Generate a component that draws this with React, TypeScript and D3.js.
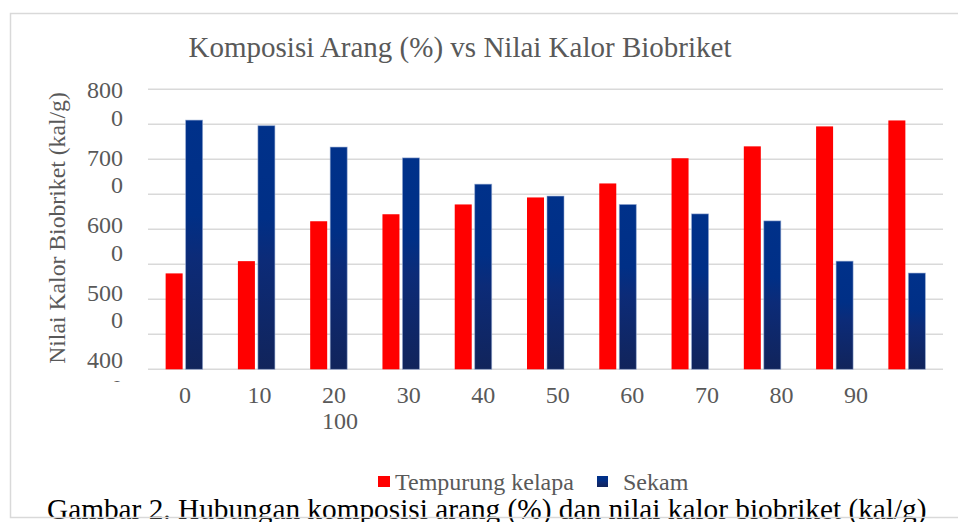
import React from 'react';
import { scaleBand, scaleLinear, range } from 'd3';

const categories = ['0', '10', '20', '30', '40', '50', '60', '70', '80', '90', '100'];
const tempurung = [5370, 5545, 6115, 6215, 6355, 6455, 6655, 7015, 7185, 7470, 7555];
const sekam = [7560, 7480, 7175, 7020, 6645, 6475, 6355, 6220, 6120, 5545, 5375];
const gridValues = range(4000, 8001, 500);
const yLabelValues = [4000, 5000, 6000, 7000, 8000];
const seriesNames = ['Tempurung kelapa', 'Sekam'];

const font = '"Liberation Serif", "Times New Roman", serif';
const gray = '#595959';

const App = () => {
    let svgWidth = 958;
    let svgHeight = 522;
    let plot = { left: 148, right: 943, top: 89.3, bottom: 369.3 };

    let x = scaleBand<string>().domain(categories).range([plot.left, plot.right]).paddingInner(0.488).paddingOuter(0.244);
    let y = scaleLinear().domain([4000, 8000]).range([plot.bottom, plot.top]);
    // labels were squeezed by the original layout, so they sit on their own scale
    let yLab = scaleLinear().domain([4000, 8000]).range([368, 98]);
    let xLab = scaleLinear().domain([0, 9]).range([185, 856]);

    let barW = (x.bandwidth() - 3) / 2;
    let txt = (size: number) => ({ fontFamily: font, fontSize: size });

    return (
        <svg width={svgWidth} height={svgHeight} style={{ position: 'fixed', left: 0, top: 0, background: '#fff' }}>
            <defs>
                <linearGradient id="sekamGrad" x1="0" y1="0" x2="0" y2="1">
                    <stop offset="0" stopColor="#00318a" />
                    <stop offset="0.38" stopColor="#002f86" />
                    <stop offset="0.55" stopColor="#0c2b78" />
                    <stop offset="1" stopColor="#11245b" />
                </linearGradient>
                <clipPath id="yLabClip">
                    <rect x={0} y={0} width={140} height={382} />
                </clipPath>
            </defs>

            <text x={460} y={57} textAnchor="middle" style={txt(29)} fill={gray}>
                Komposisi Arang (%) vs Nilai Kalor Biobriket
            </text>

            <g>
                {gridValues.map(v => (
                    <line key={v} x1={plot.left} x2={plot.right} y1={y(v)} y2={y(v)} stroke="#d9d9d9" strokeWidth={1.4} />
                ))}
            </g>

            <g>
                {categories.map((c, i) => (
                    <g key={c}>
                        <rect x={x(c)} y={y(tempurung[i])} width={barW} height={y(4000) - y(tempurung[i])} fill="#ff0000" />
                        <rect x={x(c) + barW + 3} y={y(sekam[i])} width={barW} height={y(4000) - y(sekam[i])}
                            fill="url(#sekamGrad)" stroke="rgba(150,170,210,0.7)" strokeWidth={0.8} />
                    </g>
                ))}
            </g>

            <g clipPath="url(#yLabClip)" fill={gray} textAnchor="end">
                {yLabelValues.map(v => (
                    <text key={v} x={123} y={yLab(v)} style={txt(24)}>
                        <tspan x={123}>{String(v).slice(0, 3)}</tspan>
                        <tspan x={123} dy={27.5}>{String(v).slice(3)}</tspan>
                    </text>
                ))}
            </g>

            <text transform="translate(65,228) rotate(-90)" textAnchor="middle" style={txt(23.7)} fill={gray}>
                Nilai Kalor Biobriket (kal/g)
            </text>

            <g fill={gray} textAnchor="middle">
                {categories.slice(0, 10).map((c, i) => (
                    <text key={c} x={xLab(i)} y={403} style={txt(24)}>{c}</text>
                ))}
                <text x={xLab(2) + 6} y={429} style={txt(24)}>{categories[10]}</text>
            </g>

            <g fill={gray}>
                <rect x={378} y={476} width={12} height={11} fill="#ff0000" />
                <text x={395} y={490} style={txt(24)}>{seriesNames[0]}</text>
                <rect x={597} y={476} width={11} height={11} fill="url(#sekamGrad)" />
                <text x={623} y={490} style={txt(24)}>{seriesNames[1]}</text>
            </g>

            <text x={47} y={519} style={txt(29.3)} fill="#000">
                Gambar 2. Hubungan komposisi arang (%) dan nilai kalor biobriket (kal/g)
            </text>

            <path d={`M${svgWidth},13.5 H10.5 V517.5 H${svgWidth}`} fill="none" stroke="#d9d9d9" strokeWidth={1.5} />
        </svg>
    );
}

export default App;
